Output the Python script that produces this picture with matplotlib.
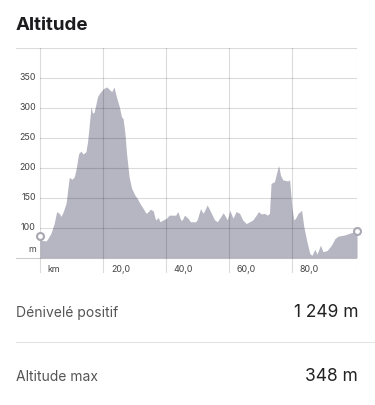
import numpy as np
import matplotlib.pyplot as plt
from matplotlib.patches import Rectangle

# profile: distance (km) / altitude (m)
km = [0.0, 0.4, 1.9, 2.4, 3.5, 4.5, 5.3, 6.1, 6.7, 7.4, 8.3, 8.8, 9.3, 10.2, 10.9,
      11.4, 12.3, 13.0, 13.7, 14.6, 15.1, 15.7, 16.2, 16.7, 17.2, 17.8, 18.3, 19.0,
      20.1, 21.2, 22.0, 22.8, 23.5, 24.3, 25.2, 25.9, 26.4, 27.0, 27.5, 28.3, 29.1,
      30.2, 30.9, 31.7, 32.8, 33.7, 34.4, 35.1, 36.0, 36.7, 37.6, 38.1, 39.1, 40.2,
      41.0, 41.6, 43.1, 43.8, 44.7, 45.2, 45.9, 47.0, 47.8, 49.4, 49.9, 51.0, 51.8,
      52.6, 53.1, 54.0, 54.7, 55.5, 56.3, 57.1, 58.2, 59.0, 59.5, 60.3, 61.3, 62.3,
      63.4, 64.4, 65.5, 66.6, 67.6, 68.7, 69.4, 70.3, 71.3, 72.2, 72.9, 73.4, 74.5,
      75.0, 75.8, 76.4, 77.1, 78.7, 79.3, 80.0, 80.6, 81.2, 82.0, 83.1, 83.8, 84.7,
      85.7, 86.4, 87.3, 88.0, 89.1, 89.9, 91.2, 92.6, 93.7, 94.7, 96.8, 99.0, 100.3,
      100.7]
alt = [86, 79, 78, 81, 91, 107, 127, 124, 119, 127, 141, 163, 184, 181, 185,
       196, 224, 228, 223, 227, 243, 274, 302, 291, 293, 307, 319, 325,
       332, 335, 331, 327, 335, 318, 302, 285, 282, 257, 224, 185, 166,
       154, 149, 141, 132, 124, 127, 131, 128, 113, 117, 110, 113, 116,
       121, 121, 121, 127, 113, 113, 121, 116, 110, 110, 113, 132, 124,
       132, 138, 129, 121, 113, 110, 116, 125, 118, 113, 129, 116, 127,
       124, 113, 107, 110, 113, 121, 127, 123, 124, 121, 124, 174, 177,
       188, 204, 188, 180, 178, 180, 135, 113, 116, 124, 129, 102, 79,
       57, 54, 64, 56, 71, 60, 62, 71, 82, 86, 88, 92, 93,
       95]

y_ticks = [100, 150, 200, 250, 300, 350]
x_ticks = [20, 40, 60, 80]
x_labels = ["20,0", "40,0", "60,0", "80,0"]
stats = [("Dénivelé positif", "1 249 m"), ("Altitude max", "348 m")]

fam = ["Inter", "DejaVu Sans"]
grid_c = (0, 0, 0, 0.14)

fig = plt.figure(figsize=(3.75, 4.05), dpi=100)
W, H = 375, 405

# axes spans px x 16..357, y 48..273
ax = fig.add_axes([16 / W, 1 - 273 / H, (357 - 16) / W, (273 - 48) / H])
x_end = km[-1]
x_left = -(40 - 16) / 3.15
ax.set_xlim(x_left, x_end)
ax.set_ylim(50 - (273 - 257.7) / 0.6, 400)
ax.axis("off")

ax.fill_between(km, alt, 50, color="#b6b5c2", lw=0, zorder=1)

for y in y_ticks:
    ax.plot([0, x_end], [y, y], color=grid_c, lw=0.8, zorder=2)
    ax.text(-1.3, y, str(y), ha="right", va="center", fontsize=6.4,
            color="#444444", family=fam)
ax.text(-1.3, 64.5, "m", ha="right", va="center", fontsize=6.4,
        color="#444444", family=fam)
ax.plot([x_left, x_end], [400, 400], color=grid_c, lw=0.8, zorder=2)
ax.plot([x_left, x_end], [50, 50], color=(0, 0, 0, 0.2), lw=0.8, zorder=2)

ybot = ax.get_ylim()[0]
for x in [0] + x_ticks + [x_end]:
    ax.plot([x, x], [ybot, 400], color=grid_c, lw=0.8, zorder=2)

lab_y = 50 - (269 - 257.7) / 0.6
ax.text(2.3, lab_y, "km", ha="left", va="center", fontsize=6.4,
        color="#444444", family=fam)
for x, lab in zip(x_ticks, x_labels):
    ax.text(x + 2.5, lab_y, lab, ha="left", va="center", fontsize=6.4,
            color="#444444", family=fam)

ax.plot([km[0], km[-1]], [alt[0], alt[-1]], "o", ms=5, mfc="white",
        mec="#a8a7b2", mew=1.5, zorder=4, clip_on=False)

fig.text(16 / W, 1 - 30 / H, "Altitude", fontsize=13.5, fontweight="bold",
         color="#1c1c1e", family=fam, va="baseline")

base_y = [317, 381]
for (lab, val), by in zip(stats, base_y):
    fig.text(16 / W, 1 - by / H, lab, fontsize=10, color="#555555",
             family=fam, va="baseline")
    fig.text(358 / W, 1 - by / H, val, fontsize=12.5, color="#222222",
             family=fam, va="baseline", ha="right")

fig.add_artist(Rectangle((16 / W, 1 - 342.5 / H), 1 - 16 / W, 1 / H,
                         transform=fig.transFigure, color="#e2e2e2", lw=0))

fig.savefig("out.png", dpi=100)
